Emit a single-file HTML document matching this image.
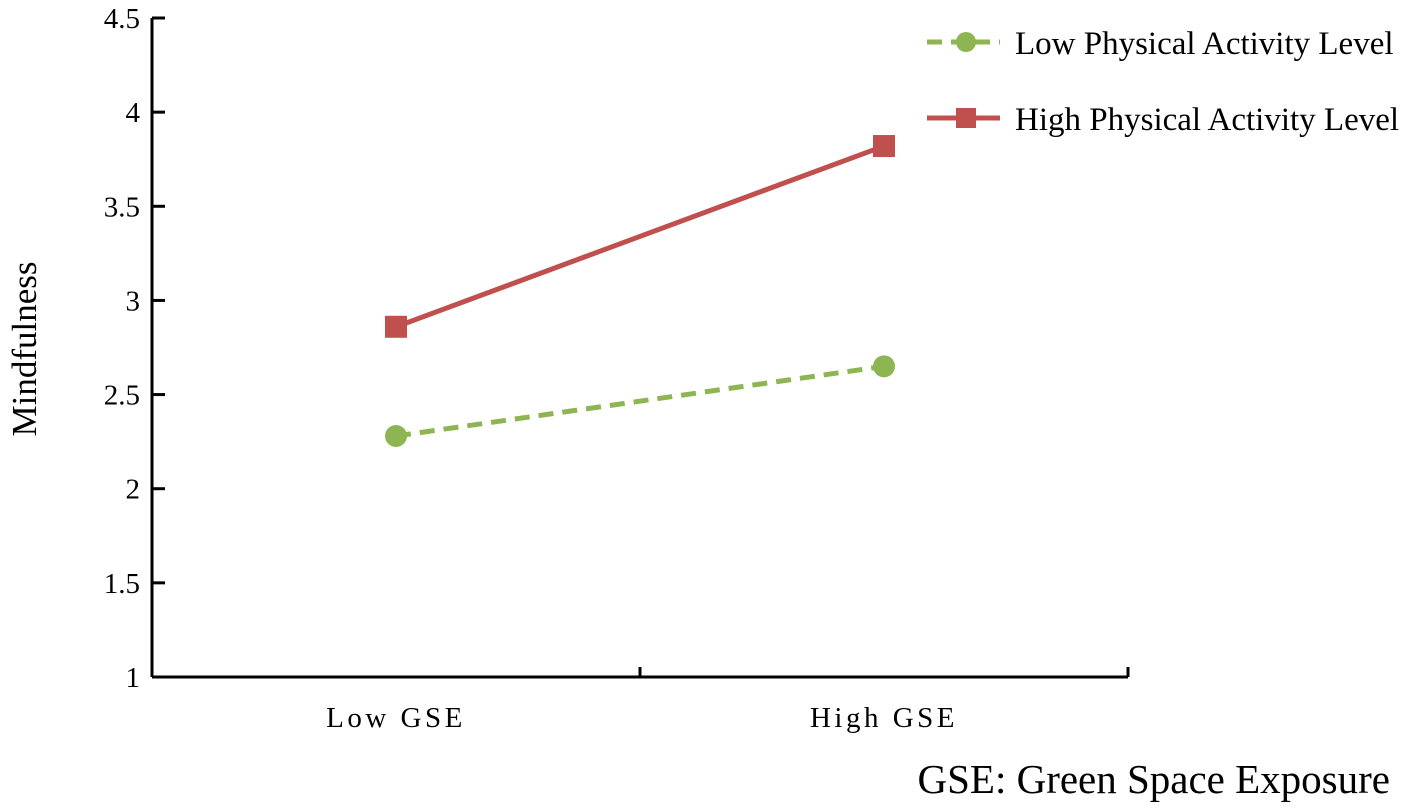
<!DOCTYPE html>
<html><head><meta charset="utf-8"><style>
html,body{margin:0;padding:0;background:#fff;}
svg{display:block;font-family:"Liberation Serif",serif;}
</style></head><body>
<svg id="chart" width="1418" height="811">
<g id="axes"></g><g id="series"></g>
<text transform="translate(36,349) rotate(-90)" text-anchor="middle" font-size="35">Mindfulness</text>
<text x="1390" y="793" text-anchor="end" font-size="41">GSE: Green Space Exposure</text>
<g>
<g>
<line x1="927" y1="42" x2="1000" y2="42" stroke="#8DB552" stroke-width="5" stroke-dasharray="15,9"/>
<circle cx="966" cy="42" r="10" fill="#8DB552"/>
<text x="1015" y="54" font-size="33">Low Physical Activity Level</text>
</g>
<g>
<line x1="927" y1="118" x2="1000" y2="118" stroke="#C0504D" stroke-width="5"/>
<rect x="956" y="108" width="20" height="20" fill="#C0504D"/>
<text x="1015" y="130" font-size="33">High Physical Activity Level</text>
</g>
</g>
</svg>
<script>
const categories=["Low GSE","High GSE"];
const lowPA=[2.28,2.65];
const highPA=[2.86,3.82];
const yTicks=[1,1.5,2,2.5,3,3.5,4,4.5];
const yTickLabels=["1","1.5","2","2.5","3","3.5","4","4.5"];
const NS="http://www.w3.org/2000/svg";
const X0=152,X1=1128,Y0=677,Y1=18;
function y(v){return Y0-(v-1)/(4.5-1)*(Y0-Y1);}
function x(i){const w=(X1-X0)/categories.length;return X0+w*(i+0.5);}
function mk(t,a,p){const e=document.createElementNS(NS,t);for(const k in a)e.setAttribute(k,a[k]);p.appendChild(e);return e;}
const ax=document.getElementById('axes'),se=document.getElementById('series');
let l=mk('line',{x1:X0,y1:Y1,x2:X0,y2:Y0,stroke:'#000','stroke-width':3},ax);


l=mk('line',{x1:X0,y1:Y0,x2:X1,y2:Y0,stroke:'#000','stroke-width':3},ax);


yTicks.forEach((v,i)=>{
 mk('line',{x1:X0,y1:y(v),x2:X0+13,y2:y(v),stroke:'#000','stroke-width':3},ax);
 const t=mk('text',{x:X0-12,y:y(v)+10,'text-anchor':'end','font-size':29},ax);
 t.textContent=yTickLabels[i];
 
 
});
for(let i=0;i<=categories.length;i++){const xx=X0+(X1-X0)/categories.length*i;mk('line',{x1:xx,y1:Y0,x2:xx,y2:Y0-10,stroke:'#000','stroke-width':3},ax);}
categories.forEach((c,i)=>{
 const t=mk('text',{x:x(i),y:Y0+50,'text-anchor':'middle','font-size':29,'letter-spacing':'3.5'},ax);
 t.textContent=c;
 
 
});
const pl=mk('polyline',{points:lowPA.map((v,i)=>x(i)+','+y(v)).join(' '),fill:'none',stroke:'#8DB552','stroke-width':5,'stroke-dasharray':'15,9'},se);


lowPA.forEach((v,i)=>{const c=mk('circle',{cx:x(i),cy:y(v),r:11,fill:'#8DB552'},se);
 
 });
const ph=mk('polyline',{points:highPA.map((v,i)=>x(i)+','+y(v)).join(' '),fill:'none',stroke:'#C0504D','stroke-width':5},se);


highPA.forEach((v,i)=>{const r=mk('rect',{x:x(i)-11,y:y(v)-11,width:22,height:22,fill:'#C0504D'},se);
 
 });
</script>
</body></html>
